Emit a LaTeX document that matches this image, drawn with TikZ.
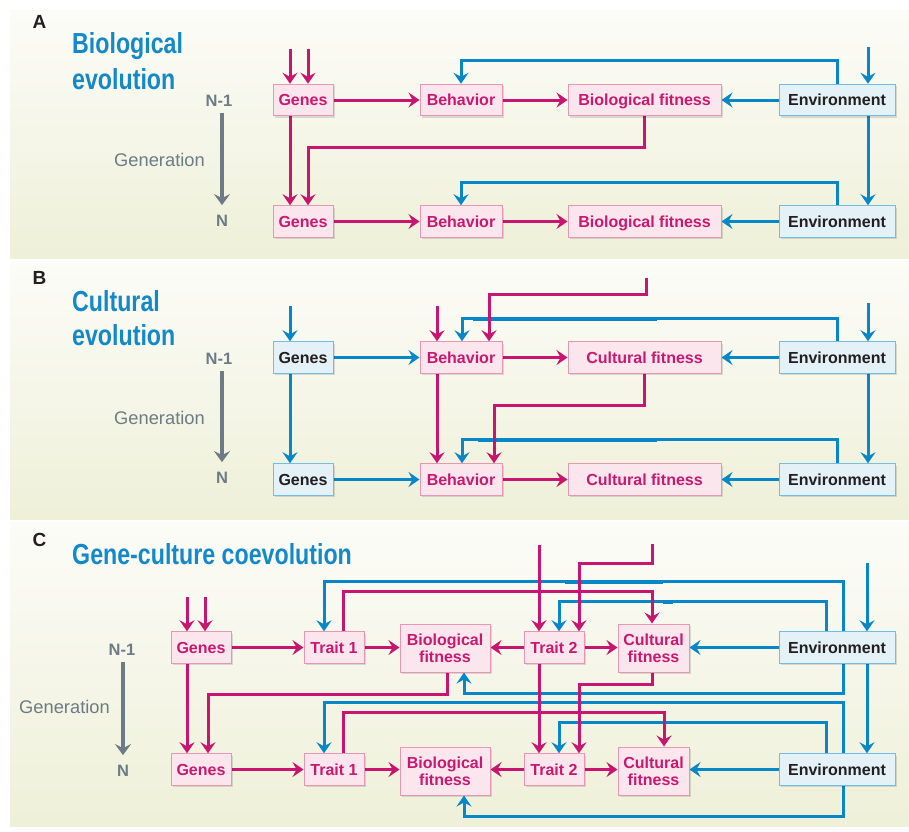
\documentclass[tikz,border=0pt]{standalone}
\usepackage{fontspec}
\setmainfont{Liberation Sans}
\newfontfamily\condfont{Liberation Sans}[FakeStretch=0.8]
\usetikzlibrary{arrows.meta,calc,shadows}
\definecolor{mag}{RGB}{200,22,112}
\definecolor{magtext}{RGB}{200,25,112}
\definecolor{pinkfill}{RGB}{250,230,236}
\definecolor{pinkline}{RGB}{232,150,182}
\definecolor{blu}{RGB}{8,135,200}
\definecolor{bluefill}{RGB}{228,241,246}
\definecolor{blueline}{RGB}{110,190,230}
\definecolor{titleblue}{RGB}{20,137,200}
\definecolor{gen}{RGB}{108,123,133}
\definecolor{bgtop}{RGB}{252,252,248}
\definecolor{bgbot}{RGB}{238,240,216}
\definecolor{ink}{RGB}{35,31,32}
\newcommand\bxf{\fontsize{16}{17}\selectfont\bfseries}
\pgfdeclarelayer{bg}
\pgfdeclarelayer{lines}
\pgfsetlayers{bg,lines,main}
\tikzset{
  boxshadow/.style={drop shadow={opacity=0.12, shadow xshift=2pt, shadow yshift=-2pt, fill=black}},
  pbox/.style={draw=pinkline, fill=pinkfill, line width=1pt, text=magtext, font=\bxf, inner sep=0pt, minimum height=31.5pt, align=center, boxshadow},
  bbox/.style={draw=blueline, fill=bluefill, line width=1pt, text=ink, font=\bxf, inner sep=0pt, minimum height=31.5pt, boxshadow},
  oneline/.style={text height=11.5pt, text depth=0pt},
  tipst/.style={-{Stealth[length=11pt,width=15pt,inset=4pt]}},
  ma/.style={draw=mag, line width=3pt, tipst},
  ba/.style={draw=blu, line width=3pt, tipst},
  bthick/.style={draw=blu, line width=4.5pt},
  garr/.style={draw=gen, line width=3.6pt, -{Stealth[length=11pt,width=16pt,inset=4pt]}},
  lab/.style={text=gen, font=\fontsize{16.5}{17}\selectfont\bfseries, inner sep=2pt},
  genlab/.style={text=gen, font=\fontsize{18.3}{19}\selectfont, inner sep=0pt},
  letter/.style={text=ink, font=\fontsize{19}{20}\selectfont\bfseries, inner sep=0pt},
  title/.style={text=titleblue, font=\condfont\bfseries\fontsize{29}{36}\selectfont, inner sep=0pt, anchor=north west, align=left},
  panel/.style={top color=bgtop, bottom color=bgbot, draw=none}
}
\begin{document}
\begin{tikzpicture}[x=1pt,y=-1pt]
\useasboundingbox (0,0) rectangle (909,831);
\begin{pgfonlayer}{bg}
\fill[white] (0,0) rectangle (909,831);
\shade[panel] (10,10) rectangle (909,258);
\shade[panel] (10,261) rectangle (909,519);
\shade[panel] (10,522) rectangle (909,826);
\end{pgfonlayer}

% ================= Panel A =================
\node[letter] (letA) at (39.5,22) {A};
\node[title] (titA) at (72,32) {Biological\\evolution};
\node[lab] (nA1) at (219,101) {N-1};
\node[lab] (nA2) at (222,221) {N};
\node[genlab] (gnA) at (159.5,160) {Generation};
\draw[garr, shorten <=4pt, shorten >=8pt] (nA1.south -| nA2.north) -- (nA2.north);

\node[pbox,oneline,minimum width=60pt] (gA1) at (303,100) {Genes};
\node[pbox,oneline,minimum width=82pt] (bA1) at (461,100) {Behavior};
\node[pbox,oneline,minimum width=153pt] (fA1) at (644.5,100) {Biological fitness};
\node[bbox,oneline,minimum width=116pt] (eA1) at (837,100) {Environment};
\node[pbox,oneline,minimum width=60pt] (gA2) at (303,221.5) {Genes};
\node[pbox,oneline,minimum width=82pt] (bA2) at (461,221.5) {Behavior};
\node[pbox,oneline,minimum width=153pt] (fA2) at (644.5,221.5) {Biological fitness};
\node[bbox,oneline,minimum width=116pt] (eA2) at (837,221.5) {Environment};
\coordinate (inA1) at (290,49);
\coordinate (inA2) at (308,49);
\coordinate (inA3) at (868,47);

\begin{pgfonlayer}{lines}
\draw[ba] (inA3) -- (inA3 |- eA1.north);
\draw[ba] (eA1.north) -- ++(0,-23) -| (bA1.north);
\draw[ba] (eA1) -- (fA1);
\draw[ba] ([xshift=31pt]eA1.south) -- ([xshift=31pt]eA2.north);
\draw[ba] (eA2.north) -- ++(0,-22.5) -| (bA2.north);
\draw[ba] (eA2) -- (fA2);
\draw[ma] (inA1) -- (inA1 |- gA1.north);
\draw[ma] (inA2) -- (inA2 |- gA1.north);
\draw[ma] (gA1) -- (bA1);
\draw[ma] (bA1) -- (fA1);
\draw[ma] ([xshift=-13pt]gA1.south) -- ([xshift=-13pt]gA2.north);
\draw[ma] (fA1.south) -- ++(0,31) -| ([xshift=5pt]gA2.north);
\draw[ma] (gA2) -- (bA2);
\draw[ma] (bA2) -- (fA2);
\end{pgfonlayer}

% ================= Panel B =================
\node[letter] (letB) at (39.5,278) {B};
\node[title, font=\condfont\bfseries\fontsize{29}{34.5}\selectfont] (titB) at (72,290) {Cultural\\evolution};
\node[lab] (nB1) at (219,359) {N-1};
\node[lab] (nB2) at (222,478) {N};
\node[genlab] (gnB) at (159.5,418) {Generation};
\draw[garr, shorten <=4pt, shorten >=8pt] (nB1.south -| nB2.north) -- (nB2.north);

\node[bbox,oneline,minimum width=60pt] (gB1) at (303,357.5) {Genes};
\node[pbox,oneline,minimum width=82pt] (bB1) at (461,357.5) {Behavior};
\node[pbox,oneline,minimum width=153pt] (cB1) at (644.5,357.5) {Cultural fitness};
\node[bbox,oneline,minimum width=116pt] (eB1) at (837,357.5) {Environment};
\node[bbox,oneline,minimum width=60pt] (gB2) at (303,479.5) {Genes};
\node[pbox,oneline,minimum width=82pt] (bB2) at (461,479.5) {Behavior};
\node[pbox,oneline,minimum width=153pt] (cB2) at (644.5,479.5) {Cultural fitness};
\node[bbox,oneline,minimum width=116pt] (eB2) at (837,479.5) {Environment};
\coordinate (inB1) at (290,306);
\coordinate (inB2) at (437,306);
\coordinate (inB3) at (646,278);
\coordinate (inB4) at (868,303);

\begin{pgfonlayer}{lines}
\draw[ba] (inB1) -- (inB1 |- gB1.north);
\draw[ba] (inB4) -- (inB4 |- eB1.north);
\draw[ba] (gB1) -- (bB1);
\draw[ba] (eB1.north) -- ++(0,-23) -| ([xshift=1pt]bB1.north);
\draw[bthick] (473,318.75) -- (657,318.75);
\draw[ba] (eB1) -- (cB1);
\draw[ba] ([xshift=-13pt]gB1.south) -- ([xshift=-13pt]gB2.north);
\draw[ba] ([xshift=31pt]eB1.south) -- ([xshift=31pt]eB2.north);
\draw[ba] (eB2.north) -- ++(0,-23.75) -| ([xshift=1pt]bB2.north);
\draw[bthick] (478,440) -- (657,440);
\draw[ba] (gB2) -- (bB2);
\draw[ba] (eB2) -- (cB2);
\draw[ma] (inB2) -- (inB2 |- bB1.north);
\draw[ma] (inB3) -- ++(0,16) -| ([xshift=28pt]bB1.north);
\draw[ma] (bB1) -- (cB1);
\draw[ma] ([xshift=-24pt]bB1.south) -- ([xshift=-24pt]bB2.north);
\draw[ma] (cB1.south) -- ++(0,31.75) -| ([xshift=33pt]bB2.north);
\draw[ma] (bB2) -- (cB2);
\end{pgfonlayer}

% ================= Panel C =================
\node[letter] (letC) at (39.5,539.5) {C};
\node[title] (titC) at (72,543) {Gene-culture coevolution};
\node[lab] (nC1) at (122,650) {N-1};
\node[lab] (nC2) at (123,771) {N};
\node[genlab] (gnC) at (64.5,707) {Generation};
\draw[garr, shorten <=4pt, shorten >=8pt] (nC1.south -| nC2.north) -- (nC2.north);

\node[pbox,oneline,minimum width=60pt] (gC1) at (201,647.5) {Genes};
\node[pbox,oneline,minimum width=60pt] (tC1) at (334,647.5) {Trait 1};
\node[pbox,minimum width=90pt,minimum height=48pt] (fC1) at (445,648) {Biological\\fitness};
\node[pbox,oneline,minimum width=60pt] (t2C1) at (554,647.5) {Trait 2};
\node[pbox,minimum width=71pt,minimum height=48pt] (cC1) at (653.5,648) {Cultural\\fitness};
\node[bbox,oneline,minimum width=116pt] (eC1) at (837,647.5) {Environment};
\node[pbox,oneline,minimum width=60pt] (gC2) at (201,769.5) {Genes};
\node[pbox,oneline,minimum width=60pt] (tC2) at (334,769.5) {Trait 1};
\node[pbox,minimum width=90pt,minimum height=48pt] (fC2) at (445,771) {Biological\\fitness};
\node[pbox,oneline,minimum width=60pt] (t2C2) at (554,769.5) {Trait 2};
\node[pbox,minimum width=71pt,minimum height=48pt] (cC2) at (653.5,771) {Cultural\\fitness};
\node[bbox,oneline,minimum width=116pt] (eC2) at (837,769.5) {Environment};
\coordinate (inC1) at (187,597);
\coordinate (inC2) at (205,597);
\coordinate (inC3) at (539,545);
\coordinate (inC4) at (652,544);
\coordinate (inC5) at (867,563);

\begin{pgfonlayer}{lines}
% blue, row 1
\draw[ba] (inC5) -- (inC5 |- eC1.north);
\draw[ba] ([xshift=6pt]eC1.north) -- ++(0,-49.75) -| ([xshift=-10pt]tC1.north);
\draw[bthick] (565,582) -- (663,582);
\draw[ba] ([xshift=6pt]eC1.south) -- ++(0,29.75) -| ([xshift=19pt]fC1.south);
\draw[ba] ([xshift=-11pt]eC1.north) -- ++(0,-29.75) -| ([xshift=5pt]t2C1.north);
\draw[bthick] (663,602) -- (673,602);
\draw[ba] (eC1.west) -- (eC1.west -| cC1.east);
\draw[ba] ([xshift=30pt]eC1.south) -- ([xshift=30pt]eC2.north);
% blue, row 2
\draw[ba] ([xshift=6pt]eC2.north) -- ++(0,-50.75) -| ([xshift=-10pt]tC2.north);
\draw[ba] ([xshift=6pt]eC2.south) -- ++(0,30.75) -| ([xshift=19pt]fC2.south);
\draw[ba] ([xshift=-11pt]eC2.north) -- ++(0,-30.75) -| ([xshift=5pt]t2C2.north);
\draw[ba] (eC2.west) -- (eC2.west -| cC2.east);
% magenta, row 1
\draw[ma] (inC1) -- (inC1 |- gC1.north);
\draw[ma] (inC2) -- (inC2 |- gC1.north);
\draw[ma] (inC3) -- (inC3 |- t2C1.north);
\draw[ma] (inC4) -- ++(0,19) -| ([xshift=25pt]t2C1.north);
\draw[ma] ([xshift=9pt]tC1.north) -- ++(0,-39.75) -| ([xshift=-1.5pt]cC1.north);
\draw[ma] (gC1) -- (tC1);
\draw[ma] (tC1.east) -- (tC1.east -| fC1.west);
\draw[ma] (t2C1.west) -- (t2C1.west -| fC1.east);
\draw[ma] (t2C1.east) -- (t2C1.east -| cC1.west);
% magenta, between rows
\draw[ma] ([xshift=-14pt]gC1.south) -- ([xshift=-14pt]gC2.north);
\draw[ma] ([xshift=2pt]fC1.south) -- ++(0,22) -| ([xshift=7pt]gC2.north);
\draw[ma] ([xshift=-1.5pt]cC1.south) -- ++(0,12) -| ([xshift=25pt]t2C2.north);
\draw[ma] ([xshift=-15pt]t2C1.south) -- ([xshift=-15pt]t2C2.north);
% magenta, row 2
\draw[ma] ([xshift=9pt]tC2.north) -- ++(0,-40.75) -| ([xshift=10.5pt]cC2.north);
\draw[ma] (gC2) -- (tC2);
\draw[ma] (tC2.east) -- (tC2.east -| fC2.west);
\draw[ma] (t2C2.west) -- (t2C2.west -| fC2.east);
\draw[ma] (t2C2.east) -- (t2C2.east -| cC2.west);
\end{pgfonlayer}
\end{tikzpicture}
\end{document}
